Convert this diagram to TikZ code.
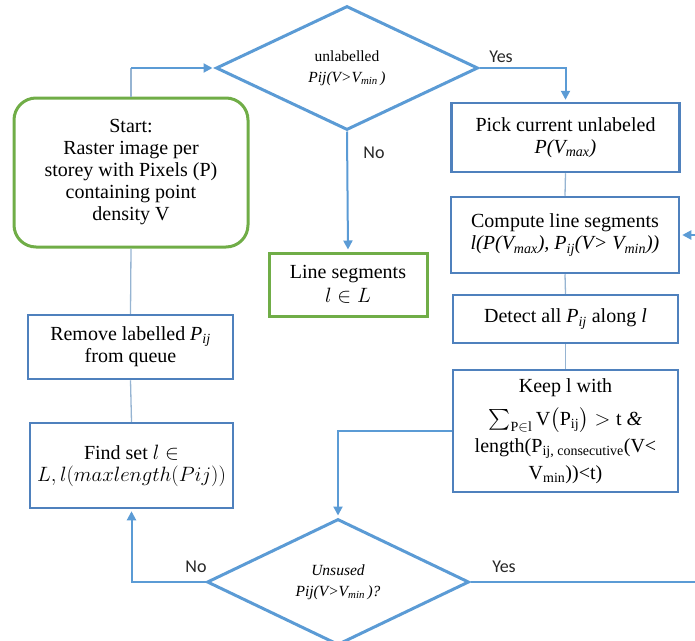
\documentclass[tikz,border=0pt]{standalone}
\usepackage{amsmath}
\usepackage{fontspec}
\setmainfont{Liberation Serif}
\newfontfamily\yesnofont{Carlito}
\usepackage{tikz}
\usetikzlibrary{arrows.meta, positioning, shapes.geometric}
\definecolor{flowblue}{RGB}{79,129,189}
\definecolor{lineblue}{RGB}{91,155,213}
\definecolor{thinblue}{RGB}{150,180,210}
\definecolor{flowgreen}{RGB}{112,173,71}

\begin{document}
\begin{tikzpicture}[x=1pt, y=-1pt,
        procbox/.style={rectangle, draw=flowblue, line width=2.5pt, align=center, inner sep=2pt, font=\fontsize{20}{22}\selectfont},
        greenbox/.style={procbox, draw=flowgreen, line width=3pt},
        decision/.style={diamond, draw=lineblue, line width=3pt, align=center, inner sep=0pt, font=\fontsize{15.5}{21}\selectfont},
        link/.style={draw=thinblue, line width=1.3pt},
        flow/.style={draw=lineblue, line width=2pt, -{Triangle[length=9pt,width=9pt]}, shorten >=2pt},
        yesno/.style={font=\yesnofont\fontsize{18}{20}\selectfont, text=black!85}]
        \useasboundingbox (0,0) rectangle (695,640);

        % left column
        \node[greenbox, rounded corners=22pt, minimum width=234, minimum height=149] (start) at (131,172.5) {Start:\\Raster image per\\storey with Pixels (P)\\containing point\\density V};
        \node[procbox, minimum width=205, minimum height=64] (remove) at (130.5,347) {Remove labelled \textit{P}\textsubscript{\textit{ij}}\\from queue};
        \node[procbox, minimum width=203, minimum height=85] (find) at (131.5,465.5) {Find set $l\in$\\$L, l(maxlength(Pij))$};

        % decisions
        \node[decision, minimum width=262, minimum height=124] (top) at (347,68) {unlabelled\\\textit{Pij(V>V\textsubscript{min}\,)}};
        \node[decision, minimum width=262, minimum height=126] (bottom) at (338,582) {\textit{Unsused}\\\textit{Pij(V>V\textsubscript{min}\,)?}};
        \node[greenbox, minimum width=158, minimum height=63, font=\fontsize{20}{24}\selectfont] (segs) at (348,284.5) {Line segments\\$l\in L$};

        % right column
        \node[procbox, minimum width=228, minimum height=69] (pick) at (565.5,137.5) {Pick current unlabeled\\\textit{P(V\textsubscript{max})}};
        \node[procbox, minimum width=228, minimum height=76] (compute) at (565,235) {Compute line segments\\\textit{l(P(V\textsubscript{max}), P\textsubscript{ij}(V> V\textsubscript{min}))}};
        \node[procbox, minimum width=225, minimum height=48] (detect) at (565.5,319) {Detect all \textit{P}\textsubscript{\textit{ij}} along \textit{l}};
        \node[procbox, minimum width=225, minimum height=122, font=\fontsize{20}{27}\selectfont] (keep) at (565.5,431) {Keep l with\\[6pt]$\sum_{\mathrm{P}\in\mathrm{l}}\mathrm{V}\bigl(\mathrm{P}_{\mathrm{ij}}\bigr)>\mathrm{t}$ \textit{\&}\\length(P\textsubscript{ij, consecutive}(V<\\V\textsubscript{min}))<t)};

        % connectors
        \coordinate (startup) at (start.north |- top.west);
        \draw[link] (start.north) -- (startup);
        \draw[flow] (startup) -- (top.west);
        \draw[flow] (top.east) -| (pick.north);
        \draw[flow] (top.south) -- (segs.north);
        \draw[link] (pick.south) -- (compute.north);
        \draw[link] (compute.south) -- (detect.north);
        \draw[link] (detect.south) -- (keep.north);
        \draw[flow] (keep.west) -| (bottom.north);
        \draw[flow] (bottom.west) -| (find.south);
        \coordinate (loopback) at (698,582);
        \draw[flow] (bottom.east) -- (loopback) |- (compute.east);
        \draw[link] (start.south) -- (remove.north);
        \draw[link] (remove.south) -- (find.north);

        \node[yesno] (yes1) at (501,57) {Yes};
        \node[yesno] (no1) at (374,153) {No};
        \node[yesno] (no2) at (196,567) {No};
        \node[yesno] (yes2) at (504,567) {Yes};
\end{tikzpicture}
\end{document}
